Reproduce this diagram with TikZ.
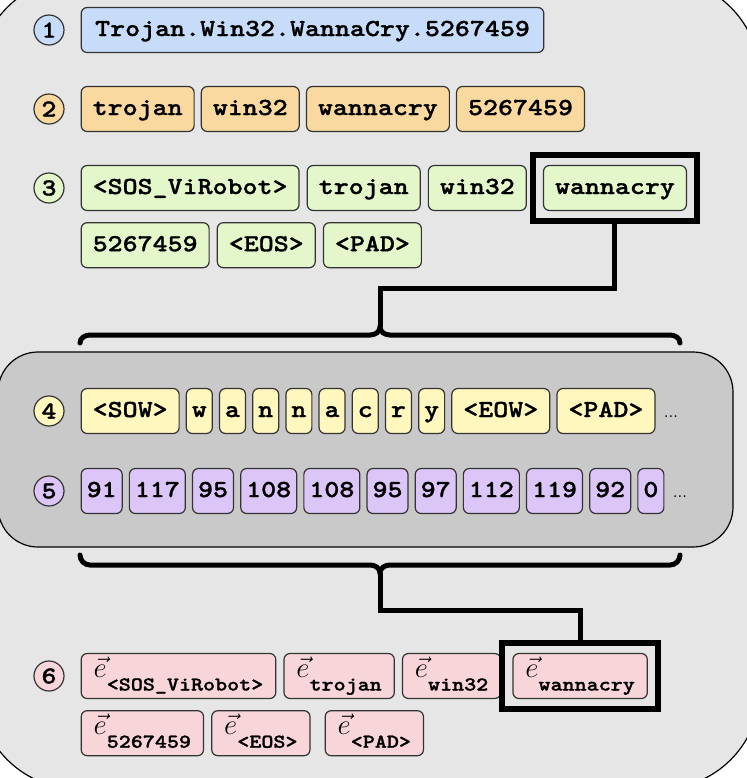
\documentclass[tikz,border=0pt]{standalone}
\usepackage{fontspec}
\setmonofont{lmmono10-regular.otf}[BoldFont=lmmonolt10-bold.otf, BoldFeatures={FakeBold=1.2}, FakeStretch=1.17]
\usetikzlibrary{positioning,fit}

\definecolor{bggray}{HTML}{E6E6E6}
\definecolor{panelgray}{HTML}{C9C9C9}
\definecolor{tokblue}{HTML}{C6DCF8}
\definecolor{tokorange}{HTML}{F9D9A0}
\definecolor{tokgreen}{HTML}{E4F7CB}
\definecolor{tokyellow}{HTML}{FFF7BE}
\definecolor{tokpurple}{HTML}{DCC6F8}
\definecolor{tokpink}{HTML}{F8D5D9}

\newcommand{\tokfont}{\fontsize{12.2}{15}\selectfont\ttfamily\bfseries}
\newcommand{\evec}[1]{{\fontsize{14}{16}\selectfont$\vec{e}$}\raisebox{-6.5pt}{\fontsize{9.8}{12}\selectfont\ttfamily\bfseries #1}}

\tikzset{
  tok/.style={draw=black!80, line width=0.6pt, rounded corners=3pt,
    inner xsep=5.75pt, inner ysep=5.75pt, text height=8.5pt, text depth=2.5pt,
    font=\tokfont},
  chr/.style={tok, inner xsep=2.75pt},
  num/.style={tok, inner xsep=2.75pt, fill=tokpurple},
  emb/.style={tok, fill=tokpink, inner xsep=6.25pt, inner ysep=3pt, text height=9pt, text depth=7.5pt},
  stepnum/.style={circle, draw=black!80, line width=0.6pt, minimum size=15pt,
    inner sep=0pt, font=\tokfont},
  hilite/.style={draw=black, line width=3pt, inner sep=5pt},
  conn/.style={line width=2.5pt},
  brace/.style={line width=2.5pt, line cap=round},
  dotsnode/.style={font=\fontsize{8}{9}\selectfont, inner sep=0pt}
}

\begin{document}
\begin{tikzpicture}[x=0.5pt, y=-0.5pt]
\useasboundingbox (0,0) rectangle (746,778);
\fill[white] (0,0) rectangle (746,778);
\draw[fill=bggray, line width=0.6pt, rounded corners=50pt] (-22,-22) rectangle (760,789);
\draw[fill=panelgray, line width=0.6pt, rounded corners=20pt] (-2,352) rectangle (733,547);

% step 1
\node[stepnum, fill=tokblue] (s1) at (49,30) {1};
\node[tok, fill=tokblue, inner xsep=7pt, right=8pt of s1] (full) {Trojan.Win32.WannaCry.5267459};

% step 2
\node[stepnum, fill=tokorange] (s2) at (49,109) {2};
\node[tok, fill=tokorange, right=8pt of s2] (tr2) {trojan};
\node[tok, fill=tokorange, right=3pt of tr2] (wi2) {win32};
\node[tok, fill=tokorange, right=3pt of wi2] (wa2) {wannacry};
\node[tok, fill=tokorange, right=3pt of wa2] (nu2) {5267459};

% step 3
\node[stepnum, fill=tokgreen] (s3) at (49,188) {3};
\node[tok, fill=tokgreen, right=8pt of s3] (sos3) {<SOS\_ViRobot>};
\node[tok, fill=tokgreen, right=3.5pt of sos3] (tr3) {trojan};
\node[tok, fill=tokgreen, right=3.5pt of tr3] (wi3) {win32};
\node[tok, fill=tokgreen, right=8pt of wi3] (wa3) {wannacry};
\node[tok, fill=tokgreen, below=5.5pt of sos3.south west, anchor=north west] (nu3) {5267459};
\node[tok, fill=tokgreen, right=3.5pt of nu3] (eos3) {<EOS>};
\node[tok, fill=tokgreen, right=3.5pt of eos3] (pad3) {<PAD>};
\node[hilite, fit=(wa3)] (hl3) {};

% brace over the character panel
\coordinate (bend1) at (380,288);
\coordinate (tip1) at (380,327);
\draw[conn] (hl3.south) |- (bend1) -- (tip1);
\draw[brace] (80,343) to[out=90,in=180] (90,335) -- (370,335) to[out=0,in=-90] (tip1)
  to[out=-90,in=180] (390,335) -- (670,335) to[out=0,in=90] (680,343);

% step 4
\node[stepnum, fill=tokyellow] (s4) at (49,411) {4};
\node[tok, fill=tokyellow, right=8pt of s4] (sow4) {<SOW>};
\node[chr, fill=tokyellow, right=3pt of sow4] (c1) {w};
\node[chr, fill=tokyellow, right=3pt of c1] (c2) {a};
\node[chr, fill=tokyellow, right=3pt of c2] (c3) {n};
\node[chr, fill=tokyellow, right=3pt of c3] (c4) {n};
\node[chr, fill=tokyellow, right=3pt of c4] (c5) {a};
\node[chr, fill=tokyellow, right=3pt of c5] (c6) {c};
\node[chr, fill=tokyellow, right=3pt of c6] (c7) {r};
\node[chr, fill=tokyellow, right=3pt of c7] (c8) {y};
\node[tok, fill=tokyellow, right=3pt of c8] (eow4) {<EOW>};
\node[tok, fill=tokyellow, right=3pt of eow4] (pad4) {<PAD>};
\node[dotsnode, right=4pt of pad4.base east, anchor=base west] (more4) {...};

% step 5
\node[stepnum, fill=tokpurple] (s5) at (49,491) {5};
\node[num, right=8pt of s5] (n1) {91};
\node[num, right=3pt of n1] (n2) {117};
\node[num, right=3pt of n2] (n3) {95};
\node[num, right=3pt of n3] (n4) {108};
\node[num, right=3pt of n4] (n5) {108};
\node[num, right=3pt of n5] (n6) {95};
\node[num, right=3pt of n6] (n7) {97};
\node[num, right=3pt of n7] (n8) {112};
\node[num, right=3pt of n8] (n9) {119};
\node[num, right=3pt of n9] (n10) {92};
\node[num, right=3pt of n10] (n11) {0};
\node[dotsnode, right=4pt of n11.base east, anchor=base west] (more5) {...};

% step 6
\node[stepnum, fill=tokpink] (s6) at (49,676) {6};
\node[emb, right=8pt of s6] (esos) {\evec{<SOS\_ViRobot>}};
\node[emb, right=3.5pt of esos] (etr) {\evec{trojan}};
\node[emb, right=3.5pt of etr] (ewi) {\evec{win32}};
\node[emb, right=5.5pt of ewi] (ewa) {\evec{wannacry}};
\node[emb, below=5.5pt of esos.south west, anchor=north west] (enu) {\evec{5267459}};
\node[emb, right=3.5pt of enu] (eeos) {\evec{<EOS>}};
\node[emb, right=7pt of eeos] (epad) {\evec{<PAD>}};
\node[hilite, fit=(ewa)] (hl6) {};

% brace under the character panel
\coordinate (tip2) at (380,573);
\coordinate (bend2) at (380,610);
\draw[brace] (80,555) to[out=-90,in=180] (90,565) -- (370,565) to[out=0,in=90] (tip2)
  to[out=90,in=180] (390,565) -- (670,565) to[out=0,in=-90] (680,555);
\draw[conn] (tip2) -- (bend2) -| (hl6.north);
\end{tikzpicture}
\end{document}
